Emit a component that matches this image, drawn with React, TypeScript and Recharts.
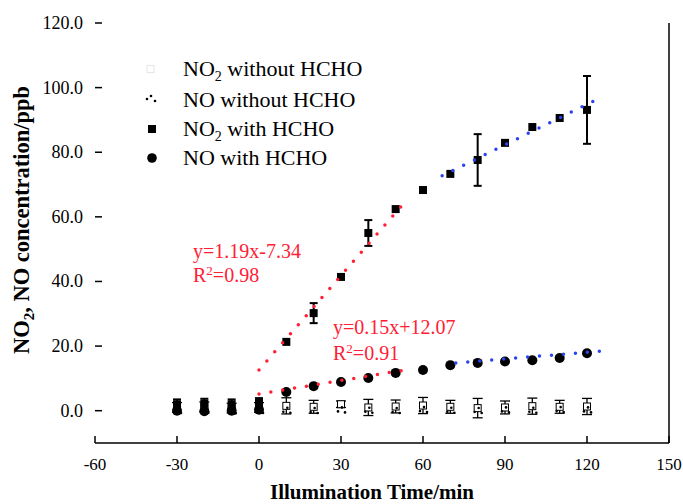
import React from 'react';
import { ComposedChart, Scatter, XAxis, YAxis, ErrorBar, ReferenceLine } from 'recharts';

// ---- data ----
const times = [-30, -20, -10, 0, 10, 20, 30, 40, 50, 60, 70, 80, 90, 100, 110, 120];
const no2With = [2.0, 2.2, 2.0, 2.4, 21.3, 30.2, 41.4, 55.0, 62.4, 68.3, 73.3, 77.6, 82.9, 87.8, 90.6, 93.1];
const no2WithErr = [1.5, 1.5, 1.5, 1.5, 0, 3.1, 0, 4.0, 0, 0, 0, 8.0, 0, 0, 0, 10.5];
const noWith = [0.0, -0.2, 0.0, 0.3, 5.8, 7.6, 8.9, 10.1, 11.7, 12.6, 14.1, 14.8, 15.2, 15.6, 16.3, 17.8];
const no2Without = [1.0, 1.2, 0.8, 1.0, 1.5, 1.2, 2.0, 1.0, 1.3, 1.6, 1.2, 0.8, 1.0, 1.4, 1.2, 1.3];
const no2WithoutErr = [1.5, 1.5, 1.5, 1.5, 2.5, 2.0, 1.0, 2.5, 2.0, 2.5, 2.0, 3.0, 2.0, 2.5, 2.0, 2.5];
const noWithout = [0.2, 0.3, 0.1, 0.2, 0.3, 0.2, 0.4, 0.3, 0.2, 0.5, 0.3, 0.2, 0.4, 0.3, 0.5, 0.4];

const fitNo2Early = [[0, 12.6], [54, 65.2]];
const fitNo2Late = [[67, 72.7], [124, 96.5]];
const fitNoEarly = [[0, 5.2], [55, 12.8]];
const fitNoLate = [[72, 14.8], [126, 18.5]];

const xTicks = [-60, -30, 0, 30, 60, 90, 120, 150];
const yTicks = [0, 20, 40, 60, 80, 100, 120];

const legendItems = ['without HCHO', 'without HCHO', 'with HCHO', 'with HCHO'];
const eqNo2 = ['y=1.19x-7.34', '0.98'];
const eqNo = ['y=0.15x+12.07', '0.91'];

// ---- derived tables ----
const mk = (ys: number[], errs?: number[]) => times.map((t, i) => ({ t, v: ys[i], err: errs ? errs[i] : 0 }));
const dNo2With = mk(no2With, no2WithErr);
const dNoWith = mk(noWith);
const dNo2Without = mk(no2Without, no2WithoutErr);
const dNoWithout = mk(noWithout);
const mkFit = (p: number[][]) => p.map(([t, v]) => ({ t, v }));

const FONT = "'Liberation Serif', 'Times New Roman', serif";
const RED = '#ff2035';
const BLUE = '#2a45f0';

const Square = (p: any) => <rect x={p.cx - 4} y={p.cy - 4} width={8} height={8} fill="#000" />;
const Circle = (p: any) => <circle cx={p.cx} cy={p.cy} r={5} fill="#000" />;
const HollowSquare = (p: any) => (
  <rect x={p.cx - 3.5} y={p.cy - 3.5} width={7} height={7} fill="#fff" stroke="#000" strokeWidth={1} />
);
const Dots = (p: any) => (
  <g fill="#000">
    <circle cx={p.cx - 3} cy={p.cy + 2} r={1.3} />
    <circle cx={p.cx + 1} cy={p.cy - 2} r={1.3} />
    <circle cx={p.cx + 4} cy={p.cy + 3} r={1.3} />
  </g>
);
const Nothing = () => <g />;

const XTick = (p: any) => {
  const { x, y, payload } = p;
  return (
    <g>
      <line x1={x} x2={x} y1={y} y2={y - 7} stroke="#000" strokeWidth={1.5} />
      <text x={x} y={y + 27} textAnchor="middle" fontFamily={FONT} fontSize={17} fill="#000">
        {payload.value}
      </text>
    </g>
  );
};

const YTick = (p: any) => {
  const { x, y, payload } = p;
  return (
    <g>
      <line x1={x} x2={x + 7} y1={y} y2={y} stroke="#000" strokeWidth={1.5} />
      <text x={x - 12} y={y + 6} textAnchor="end" fontFamily={FONT} fontSize={18} fill="#000">
        {Number(payload.value).toFixed(1)}
      </text>
    </g>
  );
};

const dotLine = (color: string) => ({
  stroke: color,
  strokeWidth: 3.5,
  strokeDasharray: '0 12',
  strokeLinecap: 'round' as const,
});

export default function App() {
  const legendRows = [69, 100, 129, 158];
  const legendLabels = [
    { sub: true, txt: legendItems[0] },
    { sub: false, txt: legendItems[1] },
    { sub: true, txt: legendItems[2] },
    { sub: false, txt: legendItems[3] },
  ];
  return (
    <div style={{ position: 'absolute', left: 0, top: 0, width: 683, height: 504, background: '#fff' }}>
      <ComposedChart width={683} height={504} margin={{ top: 23, right: 14, bottom: 0, left: 0 }}>
        <XAxis
          type="number"
          dataKey="t"
          domain={[-60, 150]}
          ticks={xTicks}
          height={61}
          tickSize={0}
          tickMargin={0}
          tickLine={false}
          axisLine={{ stroke: '#000', strokeWidth: 1.5 }}
          tick={<XTick />}
          allowDataOverflow
        />
        <YAxis
          type="number"
          dataKey="v"
          domain={[-10, 120]}
          ticks={yTicks}
          width={95}
          tickSize={0}
          tickMargin={0}
          tickLine={false}
          axisLine={false}
          tick={<YTick />}
          allowDataOverflow
        />
        <ReferenceLine x={150} stroke="#000" strokeWidth={1.5} />
        <Scatter data={dNo2Without} dataKey="v" shape={HollowSquare} isAnimationActive={false}>
          <ErrorBar dataKey="err" direction="y" width={5} strokeWidth={1.3} stroke="#000" />
        </Scatter>
        <Scatter data={dNoWithout} dataKey="v" shape={Dots} isAnimationActive={false} />
        <Scatter data={dNoWith} dataKey="v" shape={Circle} isAnimationActive={false} />
        <Scatter data={dNo2With} dataKey="v" shape={Square} isAnimationActive={false}>
          <ErrorBar dataKey="err" direction="y" width={4} strokeWidth={2} stroke="#000" />
        </Scatter>
        <Scatter data={mkFit(fitNo2Early)} dataKey="v" line={dotLine(RED)} shape={Nothing} isAnimationActive={false} />
        <Scatter data={mkFit(fitNo2Late)} dataKey="v" line={dotLine(BLUE)} shape={Nothing} isAnimationActive={false} />
        <Scatter data={mkFit(fitNoEarly)} dataKey="v" line={dotLine(RED)} shape={Nothing} isAnimationActive={false} />
        <Scatter data={mkFit(fitNoLate)} dataKey="v" line={dotLine(BLUE)} shape={Nothing} isAnimationActive={false} />
      </ComposedChart>
      <svg
        width={683}
        height={504}
        style={{ position: 'absolute', left: 0, top: 0, pointerEvents: 'none' }}
        fontFamily={FONT}
      >
        {/* legend */}
        <rect x={147} y={legendRows[0] - 3.5} width={7} height={7} fill="#fff" stroke="#e6e6e6" strokeWidth={1} />
        <g fill="#000">
          <circle cx={147} cy={legendRows[1] - 1} r={1.3} />
          <circle cx={151} cy={legendRows[1] - 4} r={1.3} />
          <circle cx={155} cy={legendRows[1] + 1} r={1.3} />
        </g>
        <rect x={148} y={legendRows[2] - 4} width={8} height={8} fill="#000" />
        <circle cx={152} cy={legendRows[3]} r={4.8} fill="#000" />
        {legendLabels.map((l, i) => (
          <text key={i} x={183} y={legendRows[i] + 7} fontSize={22} fill="#000">
            NO
            {l.sub ? (
              <>
                <tspan dy={5} fontSize={14}>2</tspan>
                <tspan dy={-5}>{' ' + l.txt}</tspan>
              </>
            ) : (
              <tspan>{' ' + l.txt}</tspan>
            )}
          </text>
        ))}
        {/* fit equations */}
        <text x={193} y={258} fontSize={20} fill={RED}>{eqNo2[0]}</text>
        <text x={193} y={282} fontSize={20} fill={RED}>
          R<tspan dy={-7} fontSize={13}>2</tspan>
          <tspan dy={7}>={eqNo2[1]}</tspan>
        </text>
        <text x={333} y={334} fontSize={20} fill={RED}>{eqNo[0]}</text>
        <text x={333} y={360} fontSize={20} fill={RED}>
          R<tspan dy={-7} fontSize={13}>2</tspan>
          <tspan dy={7}>={eqNo[1]}</tspan>
        </text>
        {/* axis titles */}
        <text x={372} y={499} textAnchor="middle" fontSize={21} fontWeight="bold" fill="#000">
          Illumination Time/min
        </text>
        <text transform="translate(29,220) rotate(-90)" textAnchor="middle" fontSize={22.5} fontWeight="bold" fill="#000">
          NO<tspan dy={5} fontSize={15}>2</tspan>
          <tspan dy={-5}>, NO concentration/ppb</tspan>
        </text>
      </svg>
    </div>
  );
}
